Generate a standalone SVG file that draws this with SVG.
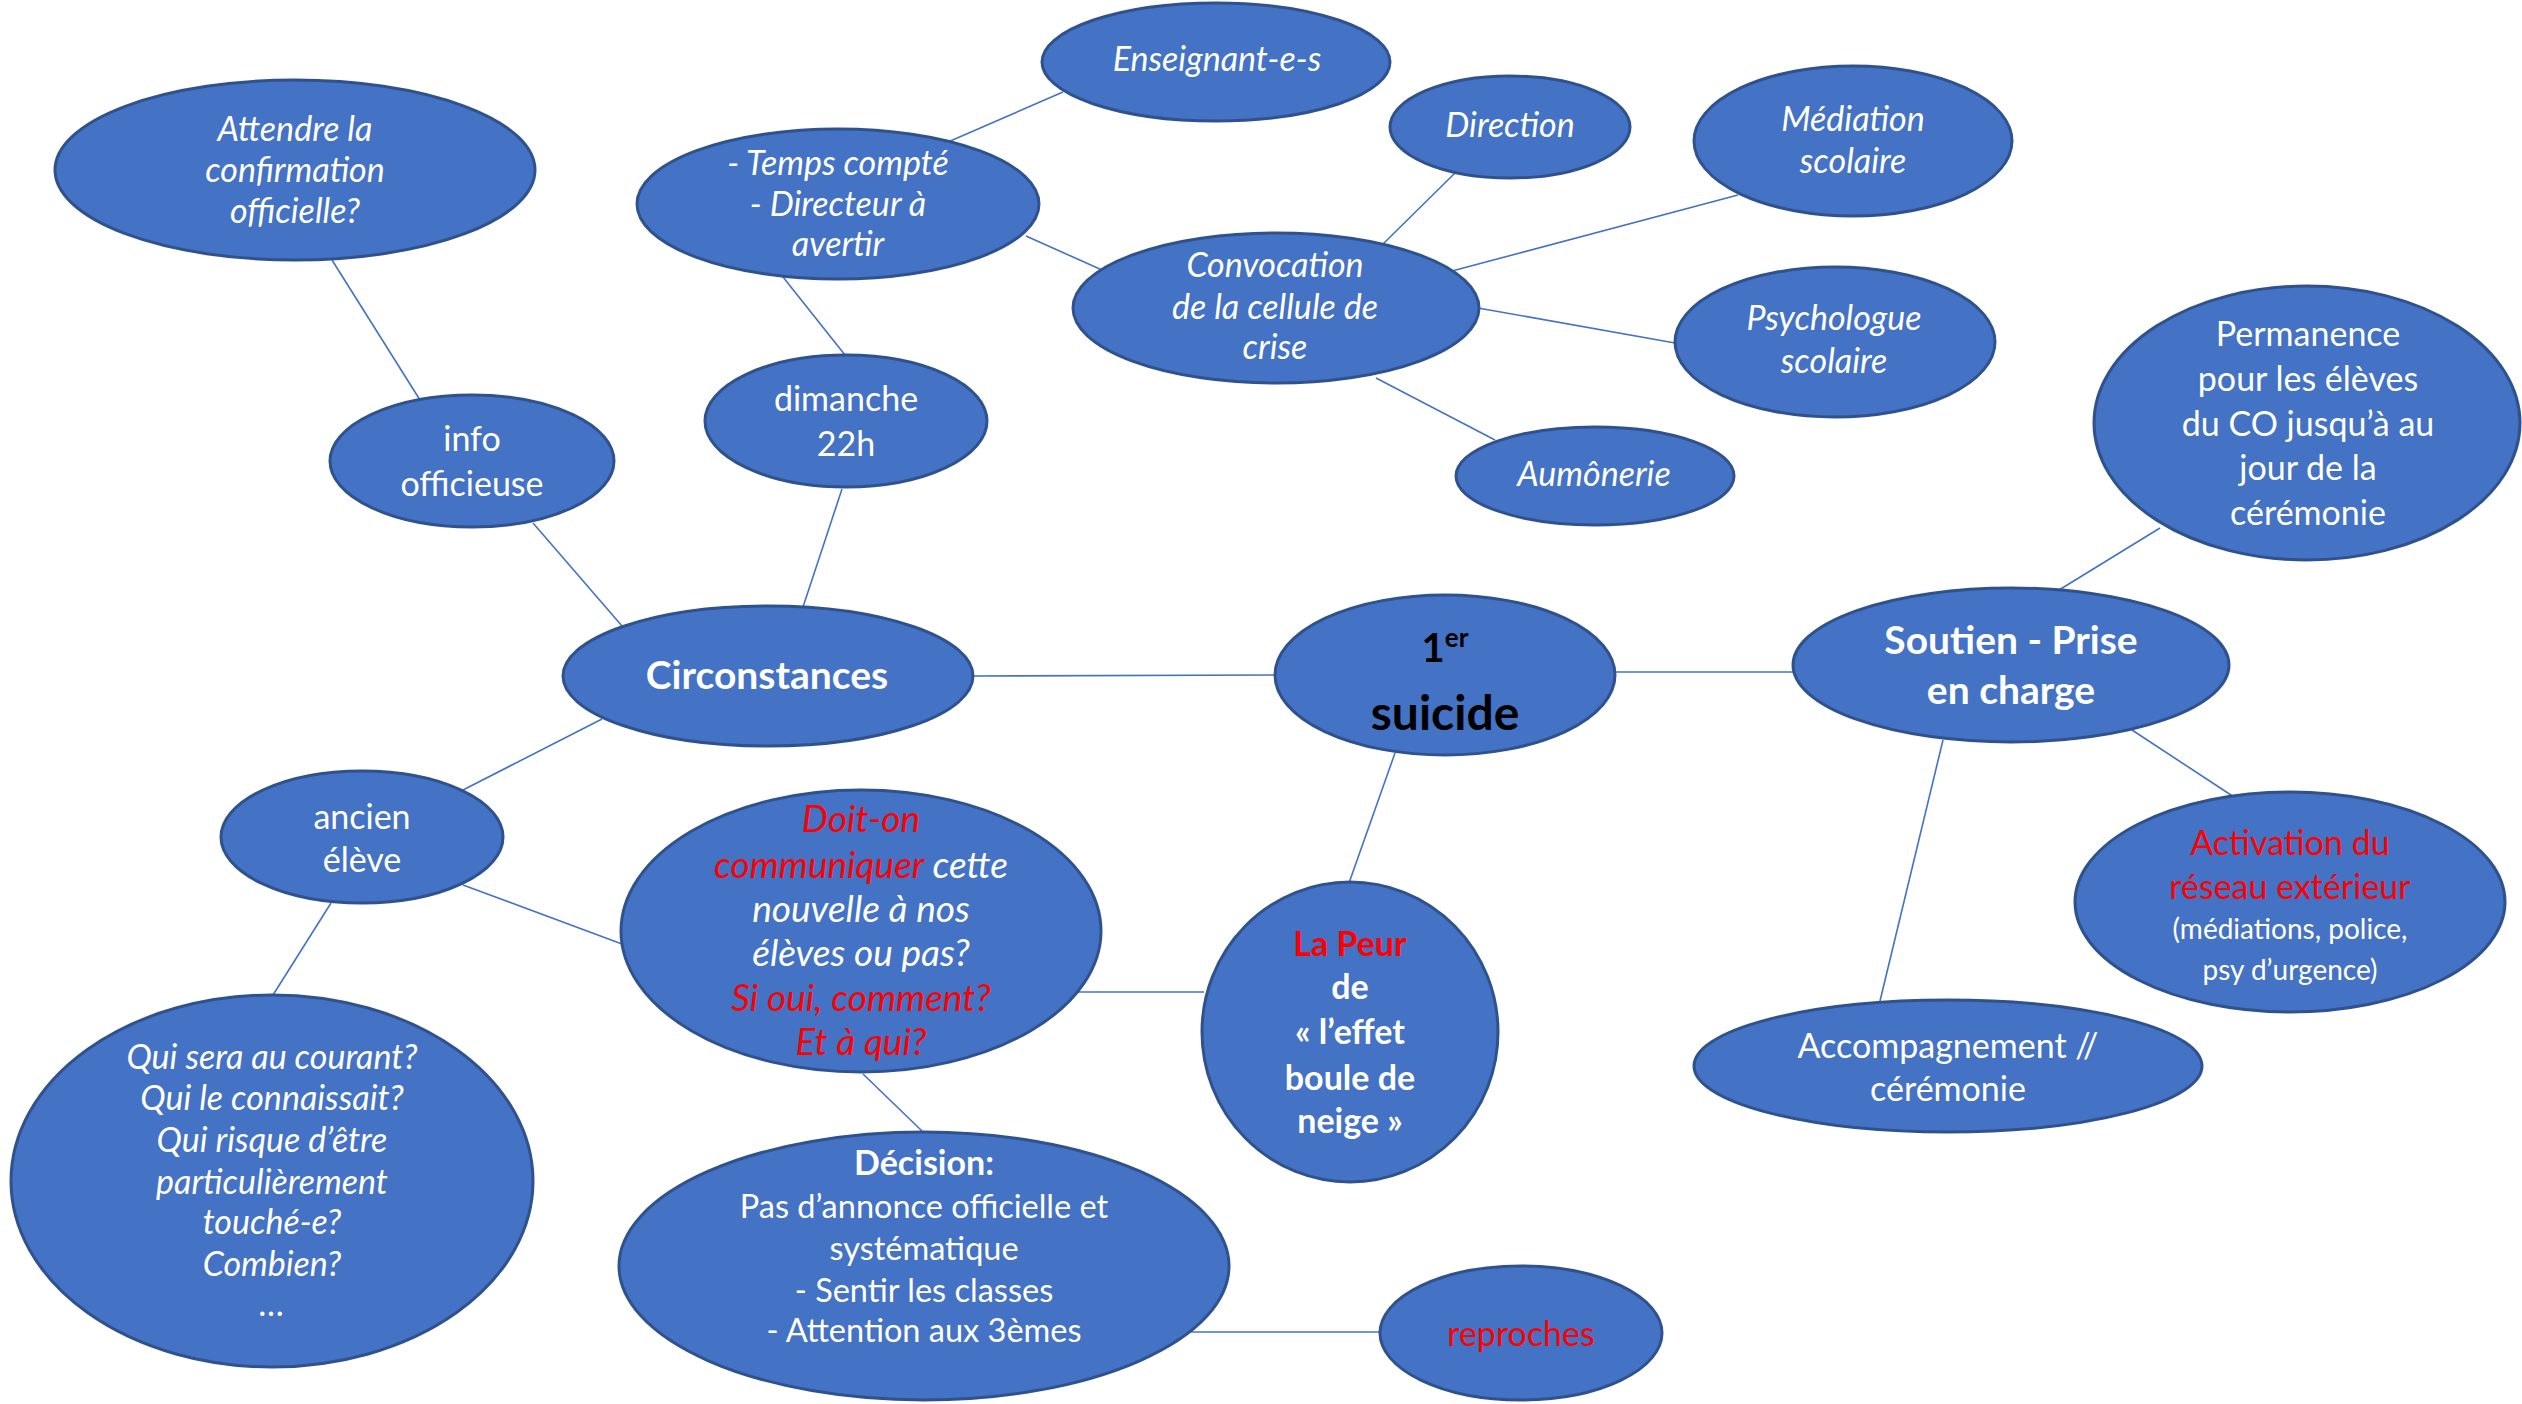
<svg xmlns="http://www.w3.org/2000/svg" width="2522" height="1404" viewBox="0 0 2522 1404">
<style>
.n{fill:#4472C4;stroke:#2F528F;stroke-width:3}
.c line{stroke:#4472C4;stroke-width:1.6}
text{font-family:Lato,"Open Sans","Liberation Sans",sans-serif;fill:#fff;text-anchor:middle}
.s31{font-size:31px}.s34{font-size:34px}.s28{font-size:28px}
.i{font-style:italic}.i1{font-style:italic;font-size:34px}.i2{font-style:italic;font-size:37px}.b{font-weight:bold}
.r{fill:#FF0000}.k{fill:#000}
</style>
<rect width="2522" height="1404" fill="#fff"/>
<g id="connectors" class="c">
<line x1="332" y1="260" x2="420" y2="400"/>
<line x1="783" y1="277" x2="845" y2="355"/>
<line x1="948" y1="142" x2="1063" y2="92"/>
<line x1="1026" y1="236" x2="1102" y2="270"/>
<line x1="533" y1="523" x2="622" y2="626"/>
<line x1="842" y1="489" x2="803" y2="607"/>
<line x1="1455" y1="173" x2="1383" y2="244"/>
<line x1="1738" y1="195" x2="1452" y2="271"/>
<line x1="1478" y1="308" x2="1675" y2="343"/>
<line x1="1376" y1="378" x2="1495" y2="440"/>
<line x1="2160" y1="528" x2="2059" y2="590"/>
<line x1="602" y1="719" x2="463" y2="790"/>
<line x1="463" y1="885" x2="622" y2="944"/>
<line x1="331" y1="903" x2="273" y2="995"/>
<line x1="863" y1="1074" x2="922" y2="1131"/>
<line x1="972" y1="676" x2="1275" y2="675"/>
<line x1="1614" y1="672" x2="1794" y2="672"/>
<line x1="1395" y1="753" x2="1349" y2="883"/>
<line x1="2132" y1="730" x2="2234" y2="797"/>
<line x1="1943" y1="740" x2="1880" y2="1001"/>
<line x1="1078" y1="992" x2="1204" y2="992"/>
<line x1="1191" y1="1332" x2="1379" y2="1332"/>
</g>
<g id="attendre"><ellipse class="n" cx="295" cy="170" rx="240" ry="90"/>
<text class="i1"><tspan x="295" y="141">Attendre la</tspan><tspan x="295" y="182">confirmation</tspan><tspan x="295" y="223">officielle?</tspan></text></g>
<g id="temps"><ellipse class="n" cx="838" cy="204" rx="201" ry="75"/>
<text class="i1"><tspan x="838" y="175">- Temps compté</tspan><tspan x="838" y="216">- Directeur à</tspan><tspan x="838" y="256">avertir</tspan></text></g>
<g id="info"><ellipse class="n" cx="472" cy="461" rx="142" ry="66"/>
<text class="s34"><tspan x="472" y="451">info</tspan><tspan x="472" y="496">officieuse</tspan></text></g>
<g id="dimanche"><ellipse class="n" cx="846" cy="421" rx="141" ry="66"/>
<text class="s34"><tspan x="846" y="411">dimanche</tspan><tspan x="846" y="456">22h</tspan></text></g>
<g id="enseignant"><ellipse class="n" cx="1216" cy="62" rx="174" ry="59"/>
<text class="i1" x="1217" y="71">Enseignant-e-s</text></g>
<g id="direction"><ellipse class="n" cx="1510" cy="127" rx="120" ry="51"/>
<text class="i1" x="1510" y="137">Direction</text></g>
<g id="mediation"><ellipse class="n" cx="1853" cy="141" rx="159" ry="75"/>
<text class="i1"><tspan x="1853" y="131">Médiation</tspan><tspan x="1853" y="173">scolaire</tspan></text></g>
<g id="convocation"><ellipse class="n" cx="1276" cy="308" rx="203" ry="75"/>
<text class="i1"><tspan x="1275" y="277">Convocation</tspan><tspan x="1275" y="319">de la cellule de</tspan><tspan x="1275" y="359">crise</tspan></text></g>
<g id="psychologue"><ellipse class="n" cx="1835" cy="342" rx="160" ry="75"/>
<text class="i1"><tspan x="1834" y="330">Psychologue</tspan><tspan x="1834" y="373">scolaire</tspan></text></g>
<g id="aumonerie"><ellipse class="n" cx="1595" cy="476" rx="139" ry="49"/>
<text class="i1" x="1594" y="486">Aumônerie</text></g>
<g id="permanence"><ellipse class="n" cx="2307" cy="423" rx="213" ry="137"/>
<text class="s34"><tspan x="2308" y="346">Permanence</tspan><tspan x="2308" y="391">pour les élèves</tspan><tspan x="2308" y="436">du CO jusqu’à au</tspan><tspan x="2308" y="480">jour de la</tspan><tspan x="2308" y="525">cérémonie</tspan></text></g>
<g id="circonstances"><ellipse class="n" cx="768" cy="676" rx="205" ry="70"/>
<text class="b" style="font-size:39px" x="767" y="689">Circonstances</text></g>
<g id="suicide"><ellipse class="n" cx="1445" cy="675" rx="170" ry="80"/>
<text class="k b"><tspan x="1445" y="662" style="font-size:40px">1<tspan style="font-size:26px" dy="-15">er</tspan></tspan><tspan x="1445" y="730" style="font-size:48px">suicide</tspan></text></g>
<g id="soutien"><ellipse class="n" cx="2011" cy="665" rx="218" ry="77"/>
<text class="b" style="font-size:39px"><tspan x="2011" y="654">Soutien - Prise</tspan><tspan x="2011" y="704">en charge</tspan></text></g>
<g id="ancien"><ellipse class="n" cx="362" cy="837" rx="141" ry="66"/>
<text class="s34"><tspan x="362" y="829">ancien</tspan><tspan x="362" y="872">élève</tspan></text></g>
<g id="doit"><ellipse class="n" cx="861" cy="931" rx="240" ry="141"/>
<text class="i2"><tspan x="861" y="832" class="r">Doit-on</tspan><tspan x="861" y="878"><tspan class="r">communiquer</tspan> cette</tspan><tspan x="861" y="922">nouvelle à nos</tspan><tspan x="861" y="966">élèves ou pas?</tspan><tspan x="861" y="1011" class="r">Si oui, comment?</tspan><tspan x="861" y="1055" class="r">Et à qui?</tspan></text></g>
<g id="qui"><ellipse class="n" cx="272" cy="1181" rx="261" ry="186"/>
<text class="i1"><tspan x="272" y="1069">Qui sera au courant?</tspan><tspan x="272" y="1110">Qui le connaissait?</tspan><tspan x="272" y="1152">Qui risque d’être</tspan><tspan x="272" y="1194">particulièrement</tspan><tspan x="272" y="1234">touché-e?</tspan><tspan x="272" y="1276">Combien?</tspan><tspan x="272" y="1316">…</tspan></text></g>
<g id="peur"><ellipse class="n" cx="1350" cy="1032" rx="148" ry="150"/>
<text class="s34 b"><tspan x="1350" y="956" class="r">La Peur</tspan><tspan x="1350" y="999">de</tspan><tspan x="1350" y="1044">« l’effet</tspan><tspan x="1350" y="1090">boule de</tspan><tspan x="1350" y="1133">neige »</tspan></text></g>
<g id="activation"><ellipse class="n" cx="2290" cy="902" rx="215" ry="110"/>
<text><tspan x="2290" y="855" class="s34 r">Activation du</tspan><tspan x="2290" y="899" class="s34 r">réseau extérieur</tspan><tspan x="2290" y="939" class="s28">(médiations, police,</tspan><tspan x="2290" y="980" class="s28">psy d’urgence)</tspan></text></g>
<g id="accompagnement"><ellipse class="n" cx="1948" cy="1066" rx="254" ry="66"/>
<text class="s34"><tspan x="1948" y="1058">Accompagnement //</tspan><tspan x="1948" y="1101">cérémonie</tspan></text></g>
<g id="decision"><ellipse class="n" cx="924" cy="1266" rx="305" ry="134"/>
<text style="font-size:32.5px"><tspan x="924" y="1175" class="b" style="font-size:34px">Décision:</tspan><tspan x="924" y="1218">Pas d’annonce officielle et</tspan><tspan x="924" y="1260">systématique</tspan><tspan x="924" y="1302">- Sentir les classes</tspan><tspan x="924" y="1342">- Attention aux 3èmes</tspan></text></g>
<g id="reproches"><ellipse class="n" cx="1521" cy="1333" rx="141" ry="67"/>
<text class="s34 r" x="1521" y="1346">reproches</text></g>
</svg>
